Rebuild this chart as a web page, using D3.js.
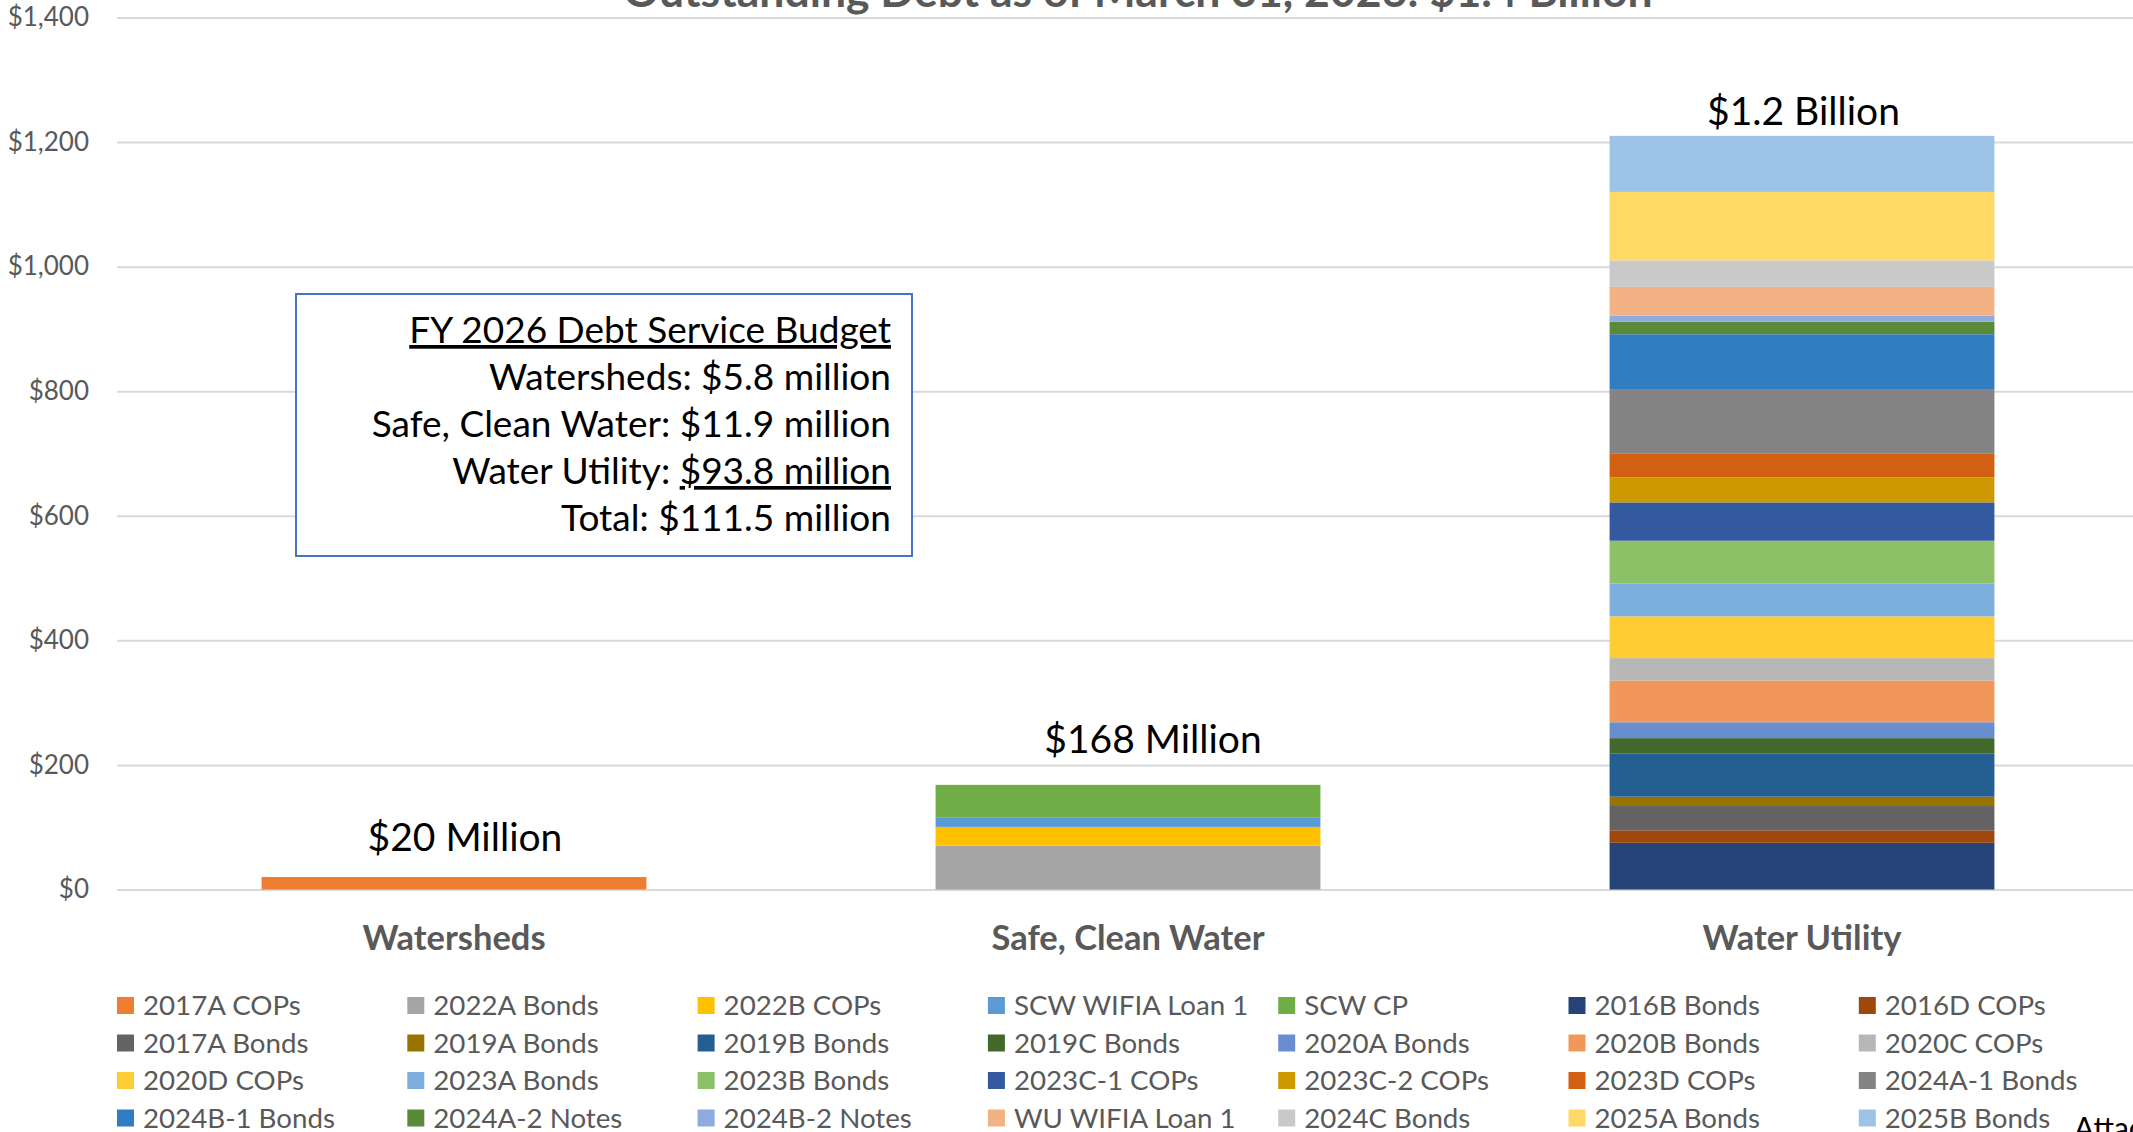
<!DOCTYPE html>
<html>
<head>
<meta charset="utf-8">
<script src="https://cdn.jsdelivr.net/npm/d3@7"></script>
<style>
  html, body { margin: 0; padding: 0; background: #fff; }
  svg { display: block; font-family: "Lato", "Open Sans", sans-serif; }
</style>
</head>
<body>
<svg width="2133" height="1132"></svg>
<script>
// категории (столбцы)
const categories = ["Watersheds", "Safe, Clean Water", "Water Utility"];

// серии долга в порядке укладки (и легенды)
const seriesNames = [
  "2017A COPs", "2022A Bonds", "2022B COPs", "SCW WIFIA Loan 1", "SCW CP",
  "2016B Bonds", "2016D COPs", "2017A Bonds", "2019A Bonds", "2019B Bonds",
  "2019C Bonds", "2020A Bonds", "2020B Bonds", "2020C COPs", "2020D COPs",
  "2023A Bonds", "2023B Bonds", "2023C-1 COPs", "2023C-2 COPs", "2023D COPs",
  "2024A-1 Bonds", "2024B-1 Bonds", "2024A-2 Notes", "2024B-2 Notes",
  "WU WIFIA Loan 1", "2024C Bonds", "2025A Bonds", "2025B Bonds"
];

const seriesColors = [
  "#ED7D31", "#A5A5A5", "#FFC000", "#5B9BD5", "#70AD47",
  "#264478", "#9E480E", "#636363", "#997300", "#255E91",
  "#43682B", "#698ED0", "#F1975A", "#B7B7B7", "#FFCD33",
  "#7CAFDD", "#8CC168", "#335AA1", "#CC9A00", "#D26012",
  "#848484", "#327DC2", "#588A3A", "#8FAADC",
  "#F4B183", "#C9C9C9", "#FFD966", "#9DC3E6"
];

// значения в млн $ по каждой категории (0 - серии нет)
const watershedsValues = [20, 0, 0, 0, 0, 0, 0, 0, 0, 0, 0, 0, 0, 0, 0, 0, 0, 0, 0, 0, 0, 0, 0, 0, 0, 0, 0, 0];
const safeCleanWaterValues = [0, 70.5, 30, 15.5, 52, 0, 0, 0, 0, 0, 0, 0, 0, 0, 0, 0, 0, 0, 0, 0, 0, 0, 0, 0, 0, 0, 0, 0];
const waterUtilityValues = [0, 0, 0, 0, 0,
  75, 20, 39, 15, 69, 25, 25.5, 67, 36, 67, 52.5, 69, 61.5, 40, 38,
  104, 88, 20, 10, 46, 42.5, 110, 90];

const totalLabels = ["$20 Million", "$168 Million", "$1.2 Billion"];
const yTicks = [0, 200, 400, 600, 800, 1000, 1200, 1400];

const chartTitle = "Outstanding Debt as of March 31, 2026: $1.4 Billion";
const budgetLines = [
  [{t: "FY 2026 Debt Service Budget", u: true}],
  [{t: "Watersheds: $5.8 million", u: false}],
  [{t: "Safe, Clean Water: $11.9 million", u: false}],
  [{t: "Water Utility: ", u: false}, {t: "$93.8 million", u: true}],
  [{t: "Total: $111.5 million", u: false}]
];

// ---------------------------------------------------------------
const svg = d3.select("svg");
const area = { left: 117, right: 2139, top: 17.5, bottom: 889.5 };
const grey = "#595959";

// таблица для d3.stack
const valuesByCat = [watershedsValues, safeCleanWaterValues, waterUtilityValues];
const table = categories.map((c, i) => {
  const row = { cat: c };
  seriesNames.forEach((s, j) => row[s] = valuesByCat[i][j]);
  return row;
});
const stacked = d3.stack().keys(seriesNames)(table);

const scX = d3.scaleBand()
  .domain(categories)
  .range([area.left, area.right])
  .paddingInner(0.429)
  .paddingOuter(0.2145);

const scY = d3.scaleLinear()
  .domain([0, 1400])
  .range([area.bottom, area.top]);

// ось Y + линии сетки
const gY = svg.append("g")
  .attr("transform", `translate(${area.left},0)`)
  .call(d3.axisLeft(scY)
    .tickValues(yTicks)
    .tickSize(-(area.right - area.left))
    .tickPadding(28)
    .tickFormat(d => "$" + d3.format(",")(d)));
gY.select(".domain").remove();
gY.selectAll("line").attr("stroke", "#d9d9d9").attr("stroke-width", 2);
gY.selectAll("text")
  .attr("fill", grey)
  .style("font-size", "26px")
  .style("font-family", "Lato");

// столбцы
svg.append("g").selectAll("g")
  .data(stacked)
  .join("g")
  .attr("fill", (d, i) => seriesColors[i])
  .selectAll("rect")
  .data(d => d.filter(p => p[1] > p[0]))
  .join("rect")
  .attr("x", d => scX(d.data.cat))
  .attr("y", d => scY(d[1]))
  .attr("width", scX.bandwidth())
  .attr("height", d => scY(d[0]) - scY(d[1]));

// подписи итогов над столбцами (текстовые поля сдвинуты вручную)
const labelShift = [[11, -26], [25, -32], [1.5, -11]];
const totals = valuesByCat.map(v => d3.sum(v));
svg.append("g").selectAll("text")
  .data(categories)
  .join("text")
  .attr("x", (d, i) => scX(d) + scX.bandwidth() / 2 + labelShift[i][0])
  .attr("y", (d, i) => scY(totals[i]) + labelShift[i][1])
  .attr("text-anchor", "middle")
  .attr("fill", "#000")
  .style("font-size", "39px")
  .text((d, i) => totalLabels[i]);

// подписи категорий
svg.append("g").selectAll("text")
  .data(categories)
  .join("text")
  .attr("x", d => scX(d) + scX.bandwidth() / 2)
  .attr("y", 950)
  .attr("text-anchor", "middle")
  .attr("fill", grey)
  .style("font-size", "34.5px")
  .style("font-weight", "bold")
  .text(d => d);

// заголовок (обрезан сверху)
svg.append("text")
  .attr("x", 1138)
  .attr("y", 7)
  .attr("text-anchor", "middle")
  .attr("fill", grey)
  .style("font-size", "44.5px")
  .style("font-weight", "bold")
  .text(chartTitle);

// блок с бюджетом
const box = svg.append("g");
box.append("rect")
  .attr("x", 296).attr("y", 294)
  .attr("width", 616).attr("height", 262)
  .attr("fill", "#fff")
  .attr("stroke", "#4472C4")
  .attr("stroke-width", 2);
budgetLines.forEach((line, i) => {
  const t = box.append("text")
    .attr("x", 891)
    .attr("y", 343 + i * 47)
    .attr("text-anchor", "end")
    .attr("fill", "#000")
    .style("font-size", "37px");
  line.forEach(part => {
    t.append("tspan")
      .style("text-decoration", part.u ? "underline" : "none")
      .text(part.t);
  });
});

// легенда: 7 колонок x 4 строки
const legend = svg.append("g");
const legItem = legend.selectAll("g")
  .data(seriesNames)
  .join("g")
  .attr("transform", (d, i) =>
    `translate(${117 + (i % 7) * 290.3},${1005.5 + Math.floor(i / 7) * 37.5})`);
legItem.append("rect")
  .attr("x", 0).attr("y", -8.5)
  .attr("width", 17).attr("height", 17)
  .attr("fill", (d, i) => seriesColors[i]);
legItem.append("text")
  .attr("x", 26)
  .attr("dy", "0.36em")
  .attr("fill", grey)
  .style("font-size", "27.7px")
  .text(d => d);

// обрезанная надпись в правом нижнем углу
svg.append("text")
  .attr("x", 2074)
  .attr("y", 1139)
  .attr("fill", "#000")
  .style("font-size", "30px")
  .text("Attachment");
</script>
</body>
</html>
